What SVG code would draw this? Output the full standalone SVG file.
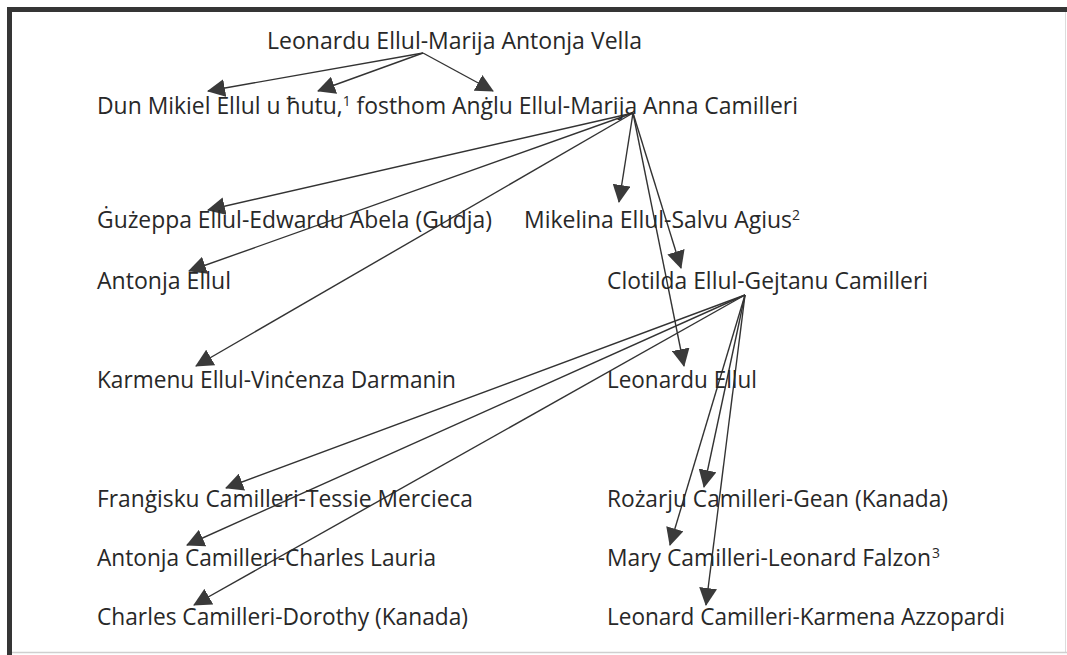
<svg xmlns="http://www.w3.org/2000/svg" width="1067" height="655" viewBox="0 0 1067 655">
<defs>
<style>
.t{font-family:"Open Sans","Liberation Sans",sans-serif;font-size:23px;fill:#282828}
.c line{stroke:#333;stroke-width:1.4;fill:none;marker-end:url(#ah)}
</style>
<marker id="ah" markerUnits="userSpaceOnUse" markerWidth="18" markerHeight="18" viewBox="0 0 18 18" refX="17" refY="9" orient="auto">
<path d="M0,0 L18,9 L0,18 z" fill="#3a3a3a"/>
</marker>
</defs>
<rect x="0" y="0" width="1067" height="655" fill="#fff"/>
<g id="frame">
<rect x="7" y="7" width="1060" height="5" fill="#353535"/>
<rect x="7" y="7" width="5" height="648" fill="#353535"/>
<line x1="1065.5" y1="12" x2="1065.5" y2="652" stroke="#dcdcdc" stroke-width="1"/>
<line x1="12" y1="652.5" x2="1067" y2="652.5" stroke="#cfcfcf" stroke-width="1.5"/>
</g>
<g id="connectors" class="c">
<line x1="423" y1="53" x2="208" y2="91"/>
<line x1="423" y1="53" x2="318" y2="91"/>
<line x1="423" y1="53" x2="493" y2="91"/>
<line x1="633" y1="113" x2="208" y2="210"/>
<line x1="633" y1="113" x2="189" y2="271"/>
<line x1="633" y1="113" x2="196" y2="366"/>
<line x1="633" y1="113" x2="619" y2="202"/>
<line x1="633" y1="113" x2="681" y2="268"/>
<line x1="633" y1="113" x2="684" y2="366"/>
<line x1="745" y1="295" x2="226" y2="488"/>
<line x1="745" y1="295" x2="187" y2="545"/>
<line x1="745" y1="295" x2="194" y2="605"/>
<line x1="745" y1="295" x2="704" y2="487"/>
<line x1="745" y1="295" x2="670" y2="545"/>
<line x1="745" y1="295" x2="706" y2="605"/>
</g>
<g id="n0"><text class="t" x="267" y="49" textLength="375" lengthAdjust="spacingAndGlyphs">Leonardu Ellul-Marija Antonja Vella</text></g>
<g id="n1"><text class="t" x="97" y="114" textLength="701" lengthAdjust="spacingAndGlyphs">Dun Mikiel Ellul u ħutu,<tspan font-size="14" dy="-8">1</tspan><tspan dy="8"> fosthom Anġlu Ellul-Marija Anna Camilleri</tspan></text></g>
<g id="n2"><text class="t" x="97" y="228" textLength="395" lengthAdjust="spacingAndGlyphs">Ġużeppa Ellul-Edwardu Abela (Gudja)</text></g>
<g id="n3"><text class="t" x="524" y="228" textLength="276" lengthAdjust="spacingAndGlyphs">Mikelina Ellul-Salvu Agius<tspan font-size="14" dy="-8">2</tspan></text></g>
<g id="n4"><text class="t" x="97" y="289" textLength="134" lengthAdjust="spacingAndGlyphs">Antonja Ellul</text></g>
<g id="n5"><text class="t" x="607" y="289" textLength="321" lengthAdjust="spacingAndGlyphs">Clotilda Ellul-Gejtanu Camilleri</text></g>
<g id="n6"><text class="t" x="97" y="388" textLength="359" lengthAdjust="spacingAndGlyphs">Karmenu Ellul-Vinċenza Darmanin</text></g>
<g id="n7"><text class="t" x="607" y="388" textLength="150" lengthAdjust="spacingAndGlyphs">Leonardu Ellul</text></g>
<g id="n8"><text class="t" x="97" y="507" textLength="376" lengthAdjust="spacingAndGlyphs">Franġisku Camilleri-Tessie Mercieca</text></g>
<g id="n9"><text class="t" x="607" y="507" textLength="341" lengthAdjust="spacingAndGlyphs">Rożarju Camilleri-Gean (Kanada)</text></g>
<g id="n10"><text class="t" x="97" y="566" textLength="339" lengthAdjust="spacingAndGlyphs">Antonja Camilleri-Charles Lauria</text></g>
<g id="n11"><text class="t" x="607" y="566" textLength="333" lengthAdjust="spacingAndGlyphs">Mary Camilleri-Leonard Falzon<tspan font-size="14" dy="-8" dx="1">3</tspan></text></g>
<g id="n12"><text class="t" x="97" y="625" textLength="371" lengthAdjust="spacingAndGlyphs">Charles Camilleri-Dorothy (Kanada)</text></g>
<g id="n13"><text class="t" x="607" y="625" textLength="398" lengthAdjust="spacingAndGlyphs">Leonard Camilleri-Karmena Azzopardi</text></g>
</svg>
